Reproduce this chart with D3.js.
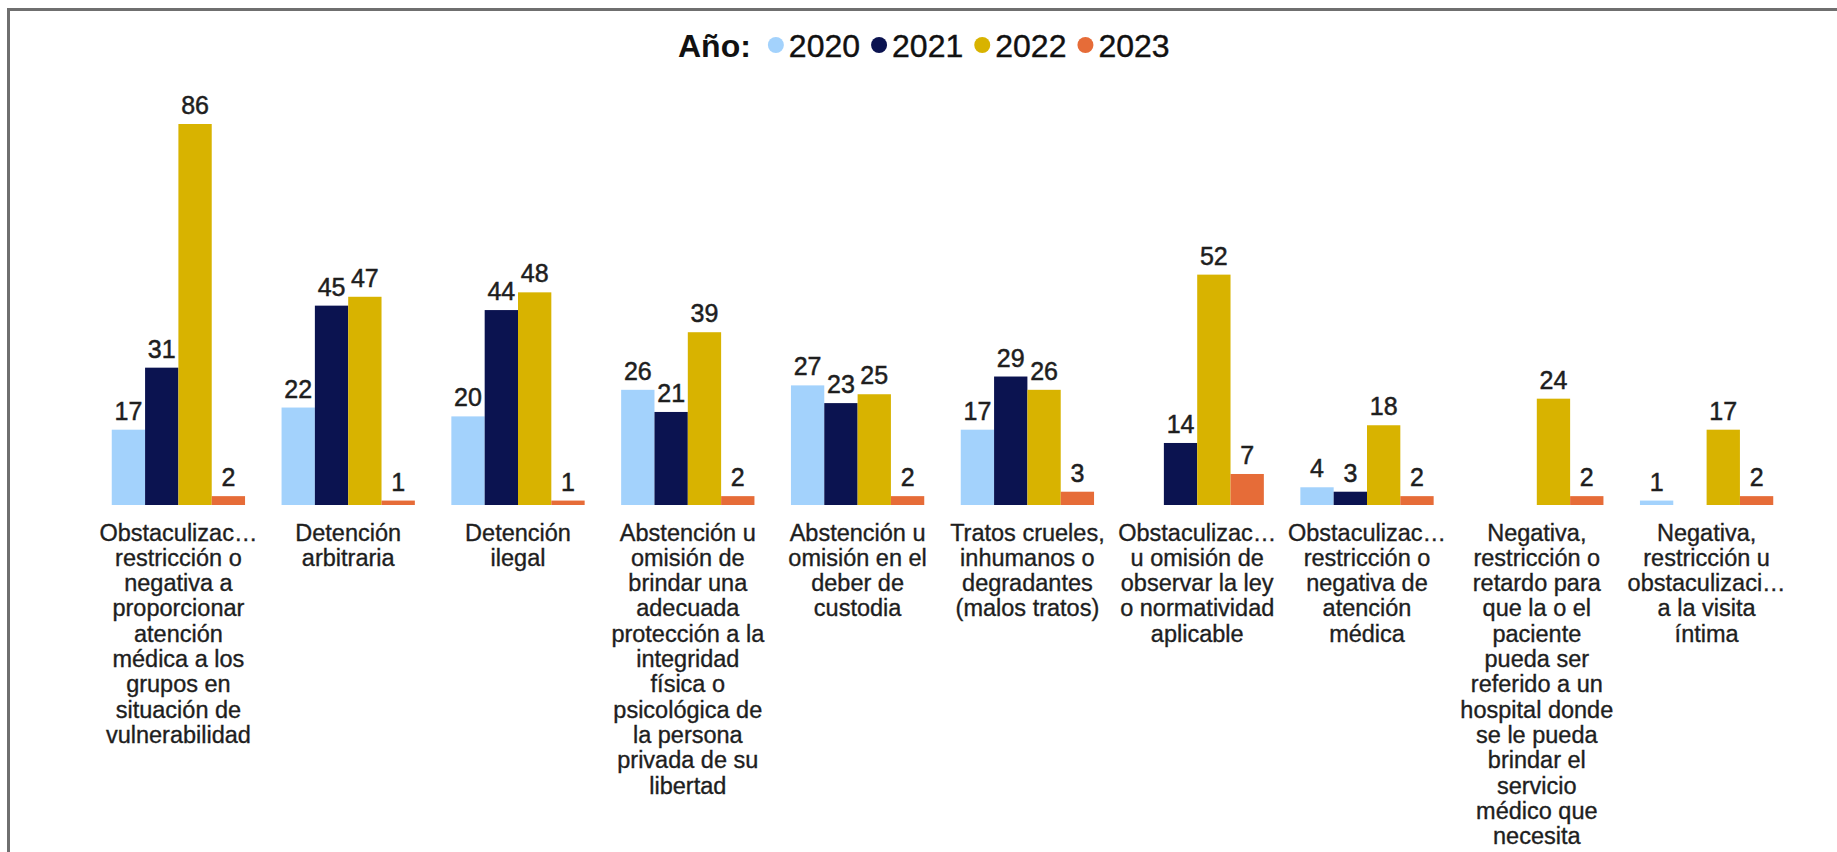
<!DOCTYPE html>
<html><head><meta charset="utf-8">
<script src="https://cdn.jsdelivr.net/npm/d3@7"></script>
<style>
html,body{margin:0;padding:0;background:#fff;overflow:hidden;}
svg{display:block;}
text{font-family:"Liberation Sans",Arial,Helvetica,sans-serif;}
</style></head>
<body>
<svg id="chart" width="1837" height="852"></svg>
<script>
const categories = [
  ["Obstaculizac…","restricción o","negativa a","proporcionar","atención","médica a los","grupos en","situación de","vulnerabilidad"],
  ["Detención","arbitraria"],
  ["Detención","ilegal"],
  ["Abstención u","omisión de","brindar una","adecuada","protección a la","integridad","física o","psicológica de","la persona","privada de su","libertad"],
  ["Abstención u","omisión en el","deber de","custodia"],
  ["Tratos crueles,","inhumanos o","degradantes","(malos tratos)"],
  ["Obstaculizac…","u omisión de","observar la ley","o normatividad","aplicable"],
  ["Obstaculizac…","restricción o","negativa de","atención","médica"],
  ["Negativa,","restricción o","retardo para","que la o el","paciente","pueda ser","referido a un","hospital donde","se le pueda","brindar el","servicio","médico que","necesita"],
  ["Negativa,","restricción u","obstaculizaci…","a la visita","íntima"]
];
const years = ["2020","2021","2022","2023"];
const s2020 = [17,22,20,26,27,17,null,4,null,1];
const s2021 = [31,45,44,21,23,29,14,3,null,null];
const s2022 = [86,47,48,39,25,26,52,18,24,17];
const s2023 = [2,1,1,2,2,3,7,2,2,2];
const colors = ["#a3d2fc","#0b1350","#d8b300","#e66c38"];
const legendTitle = "Año:";

const series = [s2020,s2021,s2022,s2023];
const svg = d3.select("#chart");

// frame
svg.append("rect").attr("x",8.5).attr("y",9.5).attr("width",1900).attr("height",1000)
  .attr("fill","none").attr("stroke","#6f6f6f").attr("stroke-width",3);

const idx = d3.range(categories.length);
const x0 = d3.scaleBand().domain(idx).range([93.5,1791.5]).paddingInner(0.215).paddingOuter(0.1075);
const x1 = d3.scaleBand().domain(years).range([0,x0.bandwidth()]);
const y = d3.scaleLinear().domain([0,86]).range([505,124]);

const groups = svg.append("g").selectAll("g").data(idx).join("g")
  .attr("transform",i=>`translate(${x0(i)},0)`);

const cells = groups.selectAll("g.c").data(i=>years.map((yr,k)=>({yr,k,v:series[k][i]})).filter(d=>d.v!=null))
  .join("g").attr("class","c");
cells.append("rect")
  .attr("x",d=>x1(d.yr)).attr("width",x1.bandwidth())
  .attr("y",d=>y(d.v)).attr("height",d=>y(0)-y(d.v))
  .attr("fill",d=>colors[d.k]);
cells.append("text")
  .attr("x",d=>x1(d.yr)+x1.bandwidth()/2).attr("y",d=>y(d.v)-10)
  .attr("text-anchor","middle").attr("font-size",25).attr("fill","#1e1e1e")
  .attr("stroke","#1e1e1e").attr("stroke-width",0.5)
  .text(d=>d.v);

// category labels
const xAxis = d3.axisBottom(x0).tickSize(0).tickFormat("");
const ax = svg.append("g").attr("transform",`translate(0,${y(0)})`).call(xAxis);
ax.select(".domain").remove();
ax.selectAll(".tick").each(function(i){
  const t = d3.select(this).append("text").attr("text-anchor","middle")
    .attr("font-size",23.5).attr("fill","#1e1e1e")
    .attr("stroke","#1e1e1e").attr("stroke-width",0.35);
  categories[i].forEach((ln,j)=>{
    t.append("tspan").attr("x",0).attr("y",35.5+j*25.3).text(ln);
  });
});

// legend
const lg = svg.append("g").attr("transform","translate(678,0)");
const title = lg.append("text").attr("y",56.5).attr("font-size",32).attr("font-weight","bold")
  .attr("fill","#111").text(legendTitle);
let cx = title.node().getComputedTextLength();
cx += 17;
years.forEach((yr,k)=>{
  lg.append("circle").attr("cx",cx+8).attr("cy",45).attr("r",8).attr("fill",colors[k]);
  const t = lg.append("text").attr("x",cx+21).attr("y",56.5).attr("font-size",32).attr("fill","#111")
    .attr("stroke","#111").attr("stroke-width",0.4).text(yr);
  cx += 21 + t.node().getComputedTextLength() + 11;
});
</script>
</body></html>
